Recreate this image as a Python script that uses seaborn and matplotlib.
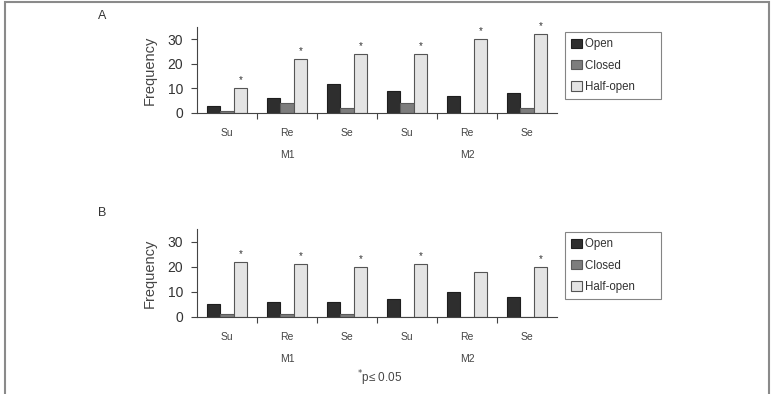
import pandas as pd
import matplotlib
matplotlib.use("Agg")
import matplotlib.pyplot as plt
import matplotlib.transforms as mtransforms
from matplotlib.patches import Rectangle
import seaborn as sns

# data
groups = ["Su M1", "Re M1", "Se M1", "Su M2", "Re M2", "Se M2"]
group_labels = ["Su", "Re", "Se", "Su", "Re", "Se"]
states = ["Open", "Closed", "Half-open"]

a_open = [3, 6, 12, 9, 7, 8]
a_closed = [1, 4, 2, 4, 0, 2]
a_half = [10, 22, 24, 24, 30, 32]
a_sig = [True, True, True, True, True, True]

b_open = [5, 6, 6, 7, 10, 8]
b_closed = [1, 1, 1, 0, 0, 0]
b_half = [22, 21, 20, 21, 18, 20]
b_sig = [True, True, True, True, False, True]

colors = {"Open": "#2e2e2e", "Closed": "#7d7d7d", "Half-open": "#e4e4e4"}
edges = {"Open": "#1e1e1e", "Closed": "#5a5a5a", "Half-open": "#555555"}


def make_df(opn, closed, half):
    rows = []
    for g, o, c, h in zip(groups, opn, closed, half):
        rows.append((g, "Open", o))
        rows.append((g, "Closed", c))
        rows.append((g, "Half-open", h))
    return pd.DataFrame(rows, columns=["group", "state", "freq"])


sns.set_style("white")
plt.rcParams["font.family"] = ["Liberation Sans", "DejaVu Sans"]

fig = plt.figure(figsize=(7.72, 3.94), dpi=100)


def draw_panel(rect, df, sig, letter, letter_y, legend_top, footnote=False):
    ax = fig.add_axes(rect)
    sns.barplot(data=df, x="group", y="freq", hue="state", hue_order=states,
                order=groups, palette=colors, width=0.67, ax=ax,
                errorbar=None, legend=False)
    for cont, st in zip(ax.containers, states):
        for p in cont:
            p.set_edgecolor(edges[st])
            p.set_linewidth(0.8)

    # significance stars above half-open bars
    half_bars = ax.containers[2]
    for p, s in zip(half_bars, sig):
        if s:
            ax.text(p.get_x() + p.get_width() / 2, p.get_height() + 3.2, "*",
                    ha="center", va="center", fontsize=7, color="#333333")

    ax.set_xlim(-0.5, 5.5)
    ax.set_ylim(0, 35)
    ax.set_yticks([0, 10, 20, 30])
    ax.set_yticklabels(["0", "10", "20", "30"], fontsize=10, color="#333333")
    ax.set_xticks(range(6))
    ax.set_xticklabels(group_labels, fontsize=7.5, color="#444444")
    ax.set_xticks([0.5, 1.5, 2.5, 3.5, 4.5], minor=True)
    ax.tick_params(axis="x", which="major", length=0, pad=11)
    ax.tick_params(axis="x", which="minor", length=4, width=0.8,
                   color="#444444", direction="out", bottom=True)
    ax.tick_params(axis="y", length=4, width=0.8, color="#444444",
                   direction="out", left=True, pad=6)
    ax.set_xlabel("")
    ax.set_ylabel("Frequency", fontsize=10.5, color="#444444", labelpad=8)
    sns.despine(ax=ax)
    for sp in ("left", "bottom"):
        ax.spines[sp].set_color("#444444")
        ax.spines[sp].set_linewidth(0.8)

    trans = mtransforms.blended_transform_factory(ax.transData, fig.transFigure)
    yb = rect[1]
    ax.text(1, yb - 42 / 394, "M1", transform=trans, ha="center",
            va="center", fontsize=7.5, color="#444444")
    ax.text(4, yb - 42 / 394, "M2", transform=trans, ha="center",
            va="center", fontsize=7.5, color="#444444")
    if footnote:
        ax.text(2.55, yb - 61 / 394, r"$^{*}$p≤ 0.05", transform=trans,
                ha="center", va="center", fontsize=8.5, color="#444444")

    fig.text(102 / 772, letter_y, letter, ha="center", va="center",
             fontsize=9, color="#333333")

    handles = [Rectangle((0, 0), 1, 1, facecolor=colors[s],
                         edgecolor=edges[s], linewidth=0.8) for s in states]
    leg = fig.legend(handles, states, loc="upper left",
                     bbox_to_anchor=(565 / 772, legend_top),
                     bbox_transform=fig.transFigure, fontsize=8.3,
                     frameon=True, fancybox=False, handlelength=0.9,
                     handleheight=0.9, handletextpad=0.3, labelspacing=0.8,
                     borderpad=0.55, borderaxespad=0)
    leg.get_frame().set_edgecolor("#666666")
    leg.get_frame().set_linewidth(0.8)
    for t in leg.get_texts():
        t.set_color("#333333")
        t.set_text(t.get_text() + " " * 6)
    return ax


draw_panel([197 / 772, 281 / 394, 360 / 772, 86 / 394],
           make_df(a_open, a_closed, a_half), a_sig, "A", 1 - 16 / 394,
           1 - 32 / 394)
draw_panel([197 / 772, 77 / 394, 360 / 772, 88 / 394],
           make_df(b_open, b_closed, b_half), b_sig, "B", 1 - 213 / 394,
           1 - 232 / 394, footnote=True)

# outer frame around the figure
fig.patches.append(Rectangle((5 / 772, -0.02), 764 / 772, 1 - 2 / 394 + 0.02,
                             transform=fig.transFigure, fill=False,
                             edgecolor="#8a8a8a", linewidth=1.5))

fig.savefig("out.png", dpi=100)
